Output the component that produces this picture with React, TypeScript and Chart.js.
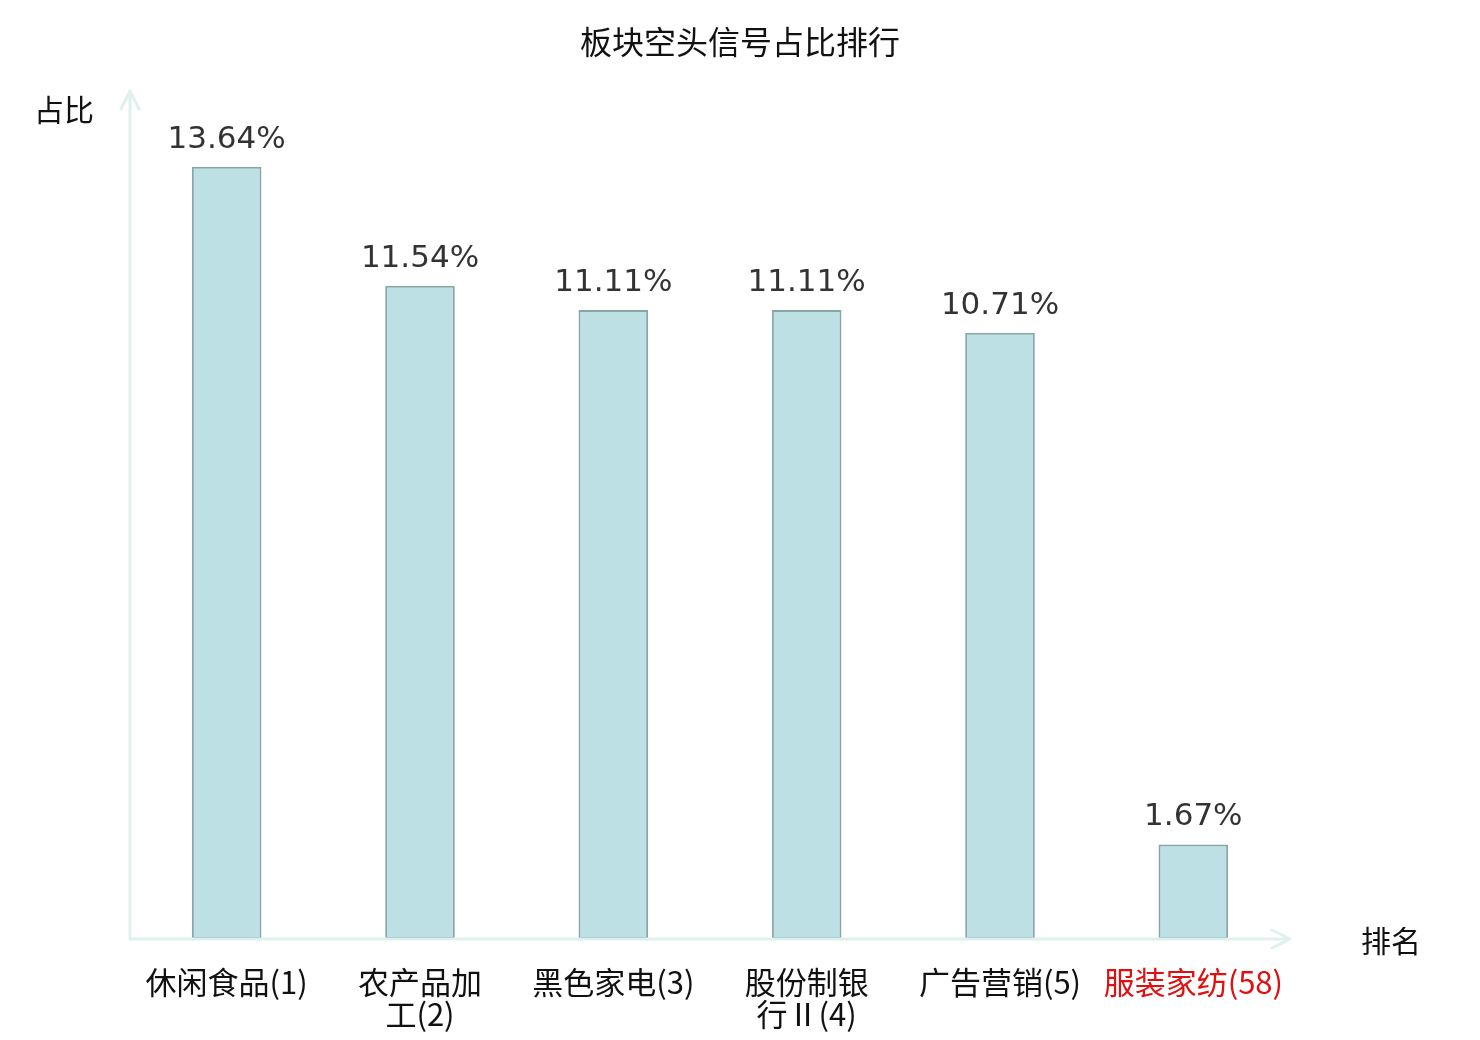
import { useEffect, useRef } from "react";
import { Chart, registerables } from "chart.js";

Chart.register(...registerables);

const categories = [
  ["休闲食品(1)"],
  ["农产品加", "工(2)"],
  ["黑色家电(3)"],
  ["股份制银", "行Ⅱ(4)"],
  ["广告营销(5)"],
  ["服装家纺(58)"],
];
const shares = [13.64, 11.54, 11.11, 11.11, 10.71, 1.67];
const labelColors = ["#111", "#111", "#111", "#111", "#111", "#e01010"];

const TITLE = "板块空头信号占比排行";
const Y_NAME = "占比";
const X_NAME = "排名";
const CJK = "'Noto Sans CJK SC', 'DejaVu Sans', sans-serif";
const AXIS_COLOR = "#dff1ef";

// title, axis lines with arrows, axis names, value labels
const decorations = {
  id: "decorations",
  afterDatasetsDraw(chart: any) {
    const { ctx, chartArea } = chart;
    const { left, right, bottom } = chartArea;
    ctx.save();

    ctx.strokeStyle = AXIS_COLOR;
    ctx.lineWidth = 3;
    ctx.lineCap = "round";
    ctx.lineJoin = "round";
    const yTop = 91;
    const xEnd = right;
    ctx.beginPath();
    ctx.moveTo(left, bottom);
    ctx.lineTo(left, yTop);
    ctx.moveTo(left - 9, yTop + 18);
    ctx.lineTo(left, yTop);
    ctx.lineTo(left + 9, yTop + 18);
    ctx.moveTo(left, bottom);
    ctx.lineTo(xEnd, bottom);
    ctx.moveTo(xEnd - 18, bottom - 9);
    ctx.lineTo(xEnd, bottom);
    ctx.lineTo(xEnd - 18, bottom + 9);
    ctx.stroke();

    ctx.fillStyle = "#111";
    ctx.font = `32px ${CJK}`;
    ctx.textBaseline = "middle";
    ctx.textAlign = "center";
    ctx.fillText(TITLE, 740, 42);
    ctx.textAlign = "left";
    ctx.font = `30px ${CJK}`;
    ctx.fillText(Y_NAME, 34, 110);
    ctx.fillText(X_NAME, 1361, 941);

    const meta = chart.getDatasetMeta(0);
    ctx.fillStyle = "#333";
    ctx.font = "31px 'DejaVu Sans', sans-serif";
    ctx.textAlign = "center";
    ctx.textBaseline = "middle";
    meta.data.forEach((bar: any, i: number) => {
      ctx.fillText(shares[i].toFixed(2) + "%", bar.x, bar.y - 27);
    });
    ctx.restore();
  },
};

export default function App() {
  const canvasRef = useRef<HTMLCanvasElement>(null);

  useEffect(() => {
    document.body.style.margin = "0";
    if (!canvasRef.current) return;
    const chart = new Chart(canvasRef.current, {
      type: "bar",
      data: {
        labels: categories,
        datasets: [
          {
            data: shares,
            backgroundColor: "#bce0e3",
            borderColor: "#88a6a8",
            borderWidth: 2,
            borderSkipped: false,
            barPercentage: 0.72,
            categoryPercentage: 0.5,
          },
        ],
      },
      options: {
        animation: false,
        responsive: false,
        devicePixelRatio: 1,
        layout: { padding: { left: 130, right: 190, top: 92, bottom: 0 } },
        plugins: {
          legend: { display: false },
          tooltip: { enabled: false },
          title: { display: false },
        },
        scales: {
          y: { display: false, min: 0, max: 14.96 },
          x: {
            border: { display: false },
            grid: { display: false, drawTicks: false },
            ticks: {
              padding: 27,
              maxRotation: 0,
              autoSkip: false,
              color: labelColors,
              font: { family: CJK, size: 31, lineHeight: 1.03 },
            },
            afterFit: (scale: any) => {
              scale.height = 101;
            },
          },
        },
      },
      plugins: [decorations],
    });
    return () => chart.destroy();
  }, []);

  return (
    <div style={{ width: 1480, height: 1040, background: "#fff" }}>
      <canvas ref={canvasRef} width={1480} height={1040} />
    </div>
  );
}
